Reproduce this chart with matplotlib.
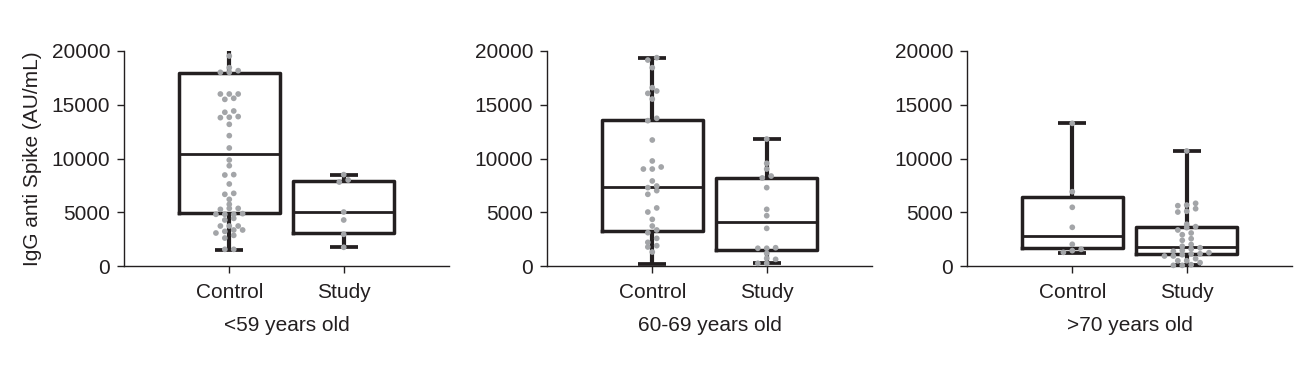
import matplotlib
matplotlib.use("Agg")
import matplotlib.pyplot as plt
import numpy as np

plt.rcParams['font.family'] = ['Liberation Sans', 'DejaVu Sans']

categories = ["Control", "Study"]
group_labels = ["<59 years old", "60-69 years old", ">70 years old"]
yticks = [0, 5000, 10000, 15000, 20000]
ylabel = "IgG anti Spike (AU/mL)"

# individual data points (AU/mL)
p1_control = [19535, 18450, 18170, 18016, 18016, 16000, 16000, 16000, 15500, 15600,
              14420, 14300, 13800, 13900, 13840, 13180, 12125, 10980, 9860, 9330,
              8465, 8500, 7630, 6670, 6760, 6200, 5270, 5360, 5360, 5740,
              4810, 4810, 4870, 4810, 4280, 4430, 3720, 3720, 3720,
              3070, 3350, 3350, 3220, 2850, 2600, 1550, 1550]
p1_study = [8500, 7810, 8000, 5020, 4280, 2950, 1740]

p2_control = [19160, 19380, 18450, 16590, 16280, 16060, 15530, 13520, 13740, 11720,
              9770, 9020, 9210, 9020, 7910, 7290, 7440, 7010, 6670, 5400, 5020, 4340,
              3720, 3350, 3100, 2570, 2200, 1770, 1890, 1300]
p2_study = [11810, 9550, 9020, 8190, 8370, 7290, 5270, 4680, 3500, 1650, 1700, 1650,
            1180, 710, 620, 250, 250]

p3_control = [13270, 6910, 5460, 3600, 2020, 1550, 1430, 1270]
p3_study = [10700, 5670, 5830, 5610, 5020, 5330, 5090, 3660, 3570, 3880, 3350, 2910,
            3070, 2390, 2540, 2000, 1840, 1580, 1700, 1370, 1460, 1140, 1120, 1240,
            930, 1050, 930, 680, 490, 310, 490, 60, 120, 60]

# box statistics: [whisker low, Q1, median, Q3, whisker high]
p1_control_box = [1520, 4950, 10390, 17930, 20500]
p1_study_box = [1740, 3100, 5020, 7900, 8500]
p2_control_box = [150, 3290, 7380, 13580, 19380]
p2_study_box = [250, 1520, 4090, 8190, 11810]
p3_control_box = [1240, 1640, 2790, 6450, 13340]
p3_study_box = [100, 1080, 1800, 3660, 10700]

panels = [
    (p1_control, p1_study, p1_control_box, p1_study_box),
    (p2_control, p2_study, p2_control_box, p2_study_box),
    (p3_control, p3_study, p3_control_box, p3_study_box),
]

DARK = "#231f20"
GRAY = "#a3a5a8"

W, H = 1314, 369
fig = plt.figure(figsize=(W / 100, H / 100), dpi=100)
lefts_px = [124, 547, 967]
ax_w_px, ax_h_px = 325, 215
bottom_px = 266
XLIM = (-0.92, 1.92)
YLIM = (0, 20000)

px_per_x = ax_w_px / (XLIM[1] - XLIM[0])
px_per_y = ax_h_px / (YLIM[1] - YLIM[0])
col_step = 8.9 / px_per_x
row_thr = 4.5 / px_per_y


def swarm_offsets(vals):
    vals = np.asarray(vals, dtype=float)
    order = np.argsort(vals)
    offs = np.zeros(len(vals))
    rows = []
    cur = []
    start = None
    for i in order:
        if start is None or vals[i] - start < row_thr:
            if start is None:
                start = vals[i]
            cur.append(i)
        else:
            rows.append(cur)
            cur = [i]
            start = vals[i]
    if cur:
        rows.append(cur)
    for r in rows:
        n = len(r)
        for k, idx in enumerate(r):
            offs[idx] = (k - (n - 1) / 2) * col_step
    return offs


def stats(box, label):
    return dict(whislo=box[0], q1=box[1], med=box[2], q3=box[3], whishi=box[4],
                label=label)


for pi, (c_vals, s_vals, c_box, s_box) in enumerate(panels):
    ax = fig.add_axes([lefts_px[pi] / W, (H - bottom_px) / H, ax_w_px / W, ax_h_px / H])
    ax.bxp([stats(c_box, categories[0]), stats(s_box, categories[1])],
           positions=[0, 1], widths=0.88, capwidths=0.245, showfliers=False,
           boxprops=dict(color=DARK, linewidth=2.5),
           whiskerprops=dict(color=DARK, linewidth=3.0, solid_capstyle='butt'),
           capprops=dict(color=DARK, linewidth=2.7, solid_capstyle='butt'),
           medianprops=dict(color=DARK, linewidth=2.0),
           zorder=2)
    for xi, vals in enumerate([c_vals, s_vals]):
        offs = swarm_offsets(vals)
        ax.scatter(xi + offs, vals, s=17, color=GRAY, edgecolors='none',
                   zorder=3, clip_on=False)
    ax.set_xlim(*XLIM)
    ax.set_ylim(*YLIM)
    ax.set_yticks(yticks)
    ax.set_yticklabels([str(t) for t in yticks])
    ax.set_xticks([0, 1])
    ax.set_xticklabels(categories)
    for s in ['top', 'right']:
        ax.spines[s].set_visible(False)
    for s in ['left', 'bottom']:
        ax.spines[s].set_color(DARK)
        ax.spines[s].set_linewidth(1.0)
    ax.tick_params(axis='both', direction='out', length=5, width=1.0, color=DARK,
                   labelsize=15, labelcolor=DARK)
    ax.tick_params(axis='x', pad=7)
    ax.tick_params(axis='y', pad=5)
    ax.set_xlabel(group_labels[pi], fontsize=15, color=DARK, labelpad=10)
    if pi == 0:
        ax.set_ylabel(ylabel, fontsize=15, color=DARK, labelpad=7)

fig.savefig("out.png", dpi=100)
